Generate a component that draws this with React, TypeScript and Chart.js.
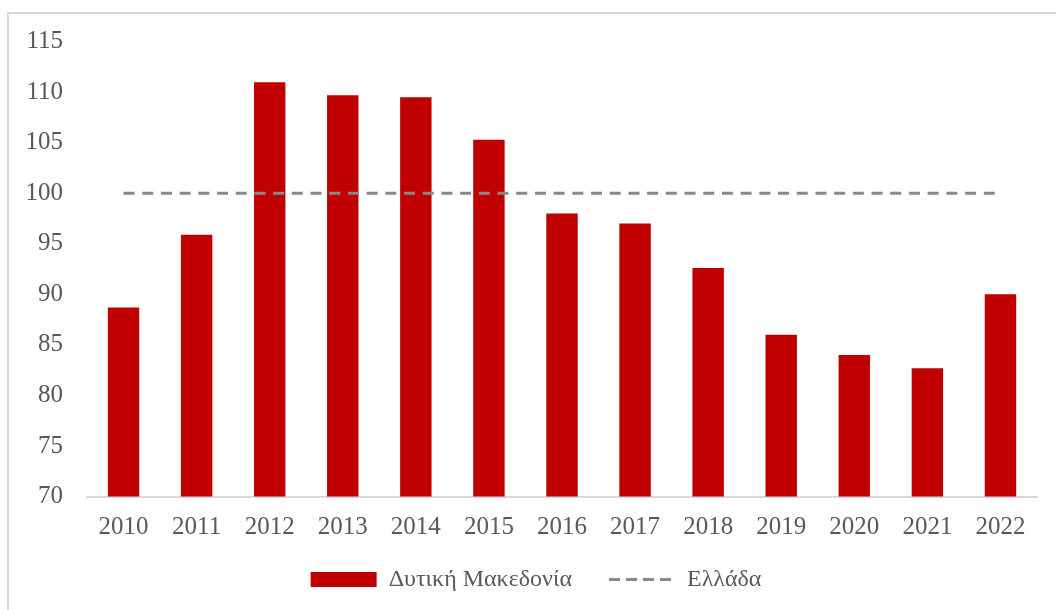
import React, { useEffect, useRef } from "react";
import { Chart, registerables } from "chart.js";

Chart.register(...registerables);

const years = ["2010", "2011", "2012", "2013", "2014", "2015", "2016", "2017", "2018", "2019", "2020", "2021", "2022"];
const westMacedonia = [88.7, 95.9, 111.0, 109.7, 109.5, 105.3, 98.0, 97.0, 92.6, 86.0, 84.0, 82.7, 90.0];
const greece = [100, 100, 100, 100, 100, 100, 100, 100, 100, 100, 100, 100, 100];
const seriesNames = ["Δυτική Μακεδονία", "Ελλάδα"];
const yMin = 70;
const yMax = 115;
const yStep = 5;

const RED = "#C00000";
const GRAY = "#898989";
const TEXT = "#595959";
const FONT = "'Liberation Serif', 'DejaVu Serif', serif";

export default function App() {
  const ref = useRef<HTMLCanvasElement | null>(null);

  useEffect(() => {
    if (!ref.current) return;
    const chart = new Chart(ref.current, {
      type: "bar",
      data: {
        labels: years,
        datasets: [
          {
            type: "bar",
            label: seriesNames[0],
            data: westMacedonia,
            backgroundColor: RED,
            borderWidth: 0,
            barPercentage: 0.43,
            categoryPercentage: 1,
            order: 2,
          },
          {
            type: "line",
            label: seriesNames[1],
            data: greece,
            borderColor: GRAY,
            borderWidth: 3,
            borderDash: [11, 7.7],
            pointRadius: 0,
            fill: false,
            order: 1,
          },
        ],
      },
      options: {
        responsive: false,
        animation: false,
        layout: { padding: { left: 0, right: -16, top: 41.7, bottom: 8.5 } },
        font: { family: FONT, size: 24 },
        color: TEXT,
        scales: {
          x: {
            grid: { display: false, drawTicks: false },
            border: { display: true, color: "#d9d9d9", width: 2 },
            ticks: { color: TEXT, font: { family: FONT, size: 25 }, padding: 15.5, maxRotation: 0 },
            afterFit: (scale: any) => {
              scale.height = 34;
              scale._computeLabelArea = () => undefined;
            },
          },
          y: {
            min: yMin,
            max: yMax,
            grid: { display: false, drawTicks: false },
            border: { display: false },
            ticks: { stepSize: yStep, color: TEXT, font: { family: FONT, size: 25 }, padding: 24 },
            afterFit: (scale: any) => {
              scale.width = 87;
            },
          },
          yRight: {
            position: "right",
            display: true,
            min: yMin,
            max: yMax,
            grid: { display: false, drawTicks: false },
            border: { display: false },
            ticks: { display: false },
            afterFit: (scale: any) => {
              scale.width = 35;
            },
          },
        },
        plugins: {
          tooltip: { enabled: false },
          legend: {
            position: "bottom",
            labels: {
              color: TEXT,
              font: { family: FONT, size: 24 },
              usePointStyle: true,
              pointStyleWidth: 66,
              boxHeight: 15,
              padding: 37,
              generateLabels: (c: any) =>
                c.data.datasets.map((ds: any, i: number) => ({
                  text: ds.label,
                  fillStyle: i === 0 ? RED : "rgba(0,0,0,0)",
                  strokeStyle: i === 0 ? RED : GRAY,
                  lineWidth: i === 0 ? 0 : 3,
                  lineDash: i === 0 ? [] : [11, 6],
                  pointStyle: i === 0 ? "rect" : "line",
                  fontColor: TEXT,
                  hidden: false,
                  datasetIndex: i,
                })),
            },
          },
        },
      },
    });
    return () => chart.destroy();
  }, []);

  return (
    <div>
      <div
        style={{
          position: "fixed",
          left: 7,
          top: 12,
          width: 1200,
          height: 800,
          borderLeft: "2px solid #d9d9d9",
          borderTop: "2px solid #d9d9d9",
        }}
      />
      <canvas
        ref={ref}
        width={1056}
        height={610}
        style={{ position: "fixed", left: 0, top: 0, width: 1056, height: 610 }}
      />
    </div>
  );
}
